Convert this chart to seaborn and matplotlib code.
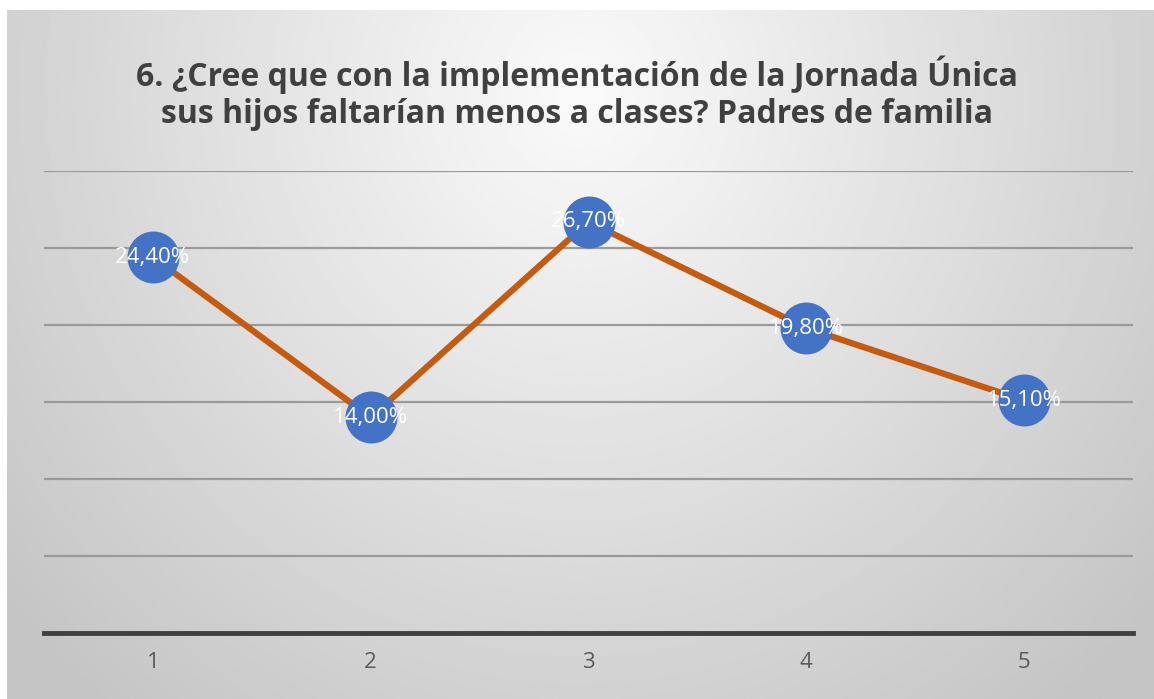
import numpy as np
import pandas as pd
import matplotlib
matplotlib.use("Agg")
import matplotlib.pyplot as plt
import seaborn as sns

# data
categorias = ["1", "2", "3", "4", "5"]
porcentajes = [24.40, 14.00, 26.70, 19.80, 15.10]
titulo = ("6. ¿Cree que con la implementación de la Jornada Única\n"
          "sus hijos faltarían menos a clases? Padres de familia")

df = pd.DataFrame({"pregunta": categorias, "valor": porcentajes})

sns.set_theme(style="white")
plt.rcParams["font.family"] = ["Open Sans", "DejaVu Sans"]

fig = plt.figure(figsize=(11.54, 6.99), dpi=100)
fig.patch.set_facecolor("white")

# radial grey gradient behind the chart
bg = fig.add_axes([7 / 1154, 0, 1 - 7 / 1154, 1 - 10 / 699], zorder=-5)
gx, gy = np.meshgrid(np.linspace(0, 1, 400), np.linspace(0, 1, 300))
r = np.sqrt(((gx - 0.5) / 0.6) ** 2 + ((gy - 0.12) / 1.05) ** 2)
shade = np.clip(0.98 - 0.19 * r, 0.77, 1.0)
bg.imshow(shade, cmap="gray", vmin=0, vmax=1, aspect="auto", extent=[0, 1, 1, 0])
bg.axis("off")

ax = fig.add_axes([44 / 1154, 1 - 633 / 699, (1133 - 44) / 1154, (633 - 171) / 699])
ax.set_facecolor("none")

sns.lineplot(data=df, x="pregunta", y="valor", color="#C55A11", linewidth=4.5,
             ax=ax, zorder=2, sort=False)
sns.scatterplot(data=df, x="pregunta", y="valor", color="#4472C4", s=1400,
                edgecolor="#4472C4", linewidth=0, ax=ax, zorder=3, legend=False)

for i, v in enumerate(porcentajes):
    ax.text(i, v, f"{v:.2f}%".replace(".", ","), color="white", fontsize=16,
            ha="center", va="center", zorder=4)

ax.set_xlim(-0.5, 4.5)
ax.set_ylim(0, 30)
ax.set_yticks(np.arange(0, 31, 5))
ax.set_yticklabels([])
ax.yaxis.grid(True, color="#9a9a9a", linewidth=1.6)
ax.set_axisbelow(True)
for s in ["top", "left", "right"]:
    ax.spines[s].set_visible(False)
ax.spines["bottom"].set_color("#404040")
ax.spines["bottom"].set_linewidth(3.5)
ax.spines["bottom"].set_zorder(1)
ax.tick_params(axis="x", length=0, pad=14, labelsize=16, labelcolor="#595959")
ax.tick_params(axis="y", length=0)
ax.set_xlabel("")
ax.set_ylabel("")

fig.text(0.5, 1 - 93 / 699, titulo, ha="center", va="center", fontsize=23,
         fontweight="bold", color="#404040", linespacing=1.15)

fig.savefig("out.png", dpi=100)
